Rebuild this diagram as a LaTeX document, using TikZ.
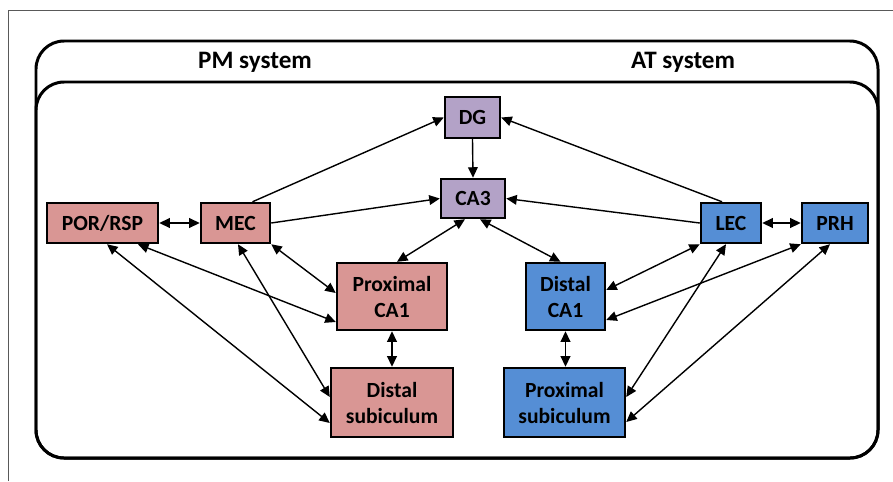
\documentclass[tikz,border=0pt]{standalone}
\usepackage{fontspec}
\setmainfont{Carlito}
\usepackage{tikz}
\usetikzlibrary{arrows.meta}

\definecolor{pmrose}{HTML}{D99694}
\definecolor{atblue}{HTML}{558ED5}
\definecolor{hclilac}{HTML}{B3A2C7}

\tikzset{
  region/.style={draw, line width=1.4pt, inner sep=0pt, font=\fontsize{12.3}{14.8}\selectfont\bfseries, align=center},
  link/.style={line width=0.8pt, {Triangle[length=6pt,width=5.5pt]}-{Triangle[length=6pt,width=5.5pt]}},
  feed/.style={line width=0.8pt, -{Triangle[length=6pt,width=5.5pt]}},
  frame/.style={line width=1.7pt, rounded corners=0.56cm}
}

\begin{document}
\begin{tikzpicture}[x=0.02cm, y=-0.02cm]
\useasboundingbox (0,0) rectangle (893,481);
\draw[gray!70!black, line width=0.5pt] (8,481) -- (8,10) -- (893,10);

\draw[frame] (36,41) rectangle (878,458);
\draw[frame] (36,82) rectangle (878,458);
\node (pm) at (255,62) [font=\fontsize{14.3}{16}\selectfont\bfseries] {PM system};
\node (at) at (683,62) [font=\fontsize{14.3}{16}\selectfont\bfseries] {AT system};

\node (dg) at (472.5,117.5) [region, fill=hclilac, minimum width=1.1cm, minimum height=0.82cm] {DG};
\node (ca3) at (473,198.5) [region, fill=hclilac, minimum width=1.28cm, minimum height=0.78cm] {CA3};

\node (por) at (102.5,223) [region, fill=pmrose, minimum width=2.22cm, minimum height=0.8cm] {POR/RSP};
\node (mec) at (235.5,223) [region, fill=pmrose, minimum width=1.38cm, minimum height=0.8cm] {MEC};
	\node (pca1) at (392,296.5) [region, fill=pmrose, minimum width=2.2cm, minimum height=1.34cm] {Proximal\\CA1};
	\node (dsub) at (392,402.5) [region, fill=pmrose, minimum width=2.44cm, minimum height=1.38cm] {Distal\\subiculum};

\node (lec) at (731,223) [region, fill=atblue, minimum width=1.2cm, minimum height=0.8cm] {LEC};
\node (prh) at (835,223) [region, fill=atblue, minimum width=1.32cm, minimum height=0.8cm] {PRH};
	\node (dca1) at (565.5,296.5) [region, fill=atblue, minimum width=1.58cm, minimum height=1.34cm] {Distal\\CA1};
	\node (psub) at (564.5,402.5) [region, fill=atblue, minimum width=2.42cm, minimum height=1.38cm] {Proximal\\subiculum};

\draw[link] (por.east) -- (mec.west);
\draw[link] (lec.east) -- (prh.west);

\draw[feed] ([xshift=0.34cm]mec.north) -- (dg.west);
\draw[feed] (mec.east) -- (ca3.west);
\draw[feed] ([xshift=-0.18cm]lec.north) -- (dg.east);
\draw[feed] (lec.west) -- (ca3.east);
\draw[feed] (dg.south) -- (ca3.north);

\draw[link] ([xshift=-0.16cm]ca3.south) -- ([xshift=0.1cm]pca1.north);
\draw[link] ([xshift=0.14cm]ca3.south) -- ([xshift=-0.1cm]dca1.north);
\draw[link] (pca1.south) -- (pca1.south |- dsub.north);
\draw[link] (dca1.south) -- (dca1.south |- psub.north);

\draw[link] ([xshift=0.09cm]por.south) -- ([yshift=-0.41cm]dsub.west);
\draw[link] ([xshift=0.71cm]por.south) -- ([yshift=-0.51cm]pca1.west);
\draw[link] ([xshift=0.05cm]mec.south) -- ([yshift=0.11cm]dsub.west);
\draw[link] (mec.south east) -- ([yshift=0.07cm]pca1.west);

\draw[link] (lec.south west) -- ([yshift=0.13cm]dca1.east);
\draw[link] ([xshift=-0.1cm]lec.south) -- ([yshift=0.11cm]psub.east);
\draw[link] (prh.south west) -- ([yshift=-0.47cm]dca1.east);
\draw[link] ([xshift=-0.1cm]prh.south) -- ([yshift=-0.39cm]psub.east);
\end{tikzpicture}
\end{document}
